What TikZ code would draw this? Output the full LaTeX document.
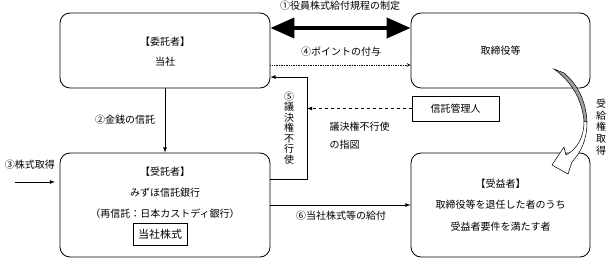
\documentclass[tikz,border=0pt]{standalone}
\usepackage{fontspec}
\setmainfont{Noto Sans CJK JP}
\usetikzlibrary{arrows,arrows.meta}

\begin{document}
\begin{tikzpicture}[x=1pt,y=-1pt,font=\fontsize{10}{12}\selectfont,
  party/.style={draw,rounded corners=10pt,line width=0.8pt,inner sep=0pt},
  plainbox/.style={draw,line width=0.8pt,inner sep=0pt},
  vtext/.style={align=center,inner sep=0pt,font=\fontsize{10}{10.5}\selectfont}]
\useasboundingbox (0,0) rectangle (608,259);

\node[party,minimum width=210pt,minimum height=75pt] (itaku) at (165,50.5) {};
\node[party,minimum width=179pt,minimum height=75pt] (tori) at (500.5,50.5) {};
\node[party,minimum width=210pt,minimum height=104pt] (jutaku) at (165,205) {};
\node[party,minimum width=179pt,minimum height=104pt] (jueki) at (500.5,205) {};
\node[plainbox,minimum width=87pt,minimum height=25pt] (kanri) at (455.5,108.5) {信託管理人};
\node[plainbox,minimum width=54pt,minimum height=22pt,font=\fontsize{11}{12}\selectfont] (kabu) at (160,234) {当社株式};

\node[] (itaku1) at (165,42) {【委託者】};
\node[] (itaku2) at (165,62) {当社};
\node[] (tori1) at (500.5,51) {取締役等};
\node[] (jutaku1) at (165,172) {【受託者】};
\node[] (jutaku2) at (165,193) {みずほ信託銀行};
\node[] (jutaku3) at (165,214) {（再信託：日本カストディ銀行）};
\node[] (jueki1) at (500.5,184) {【受益者】};
\node[] (jueki2) at (500.5,205) {取締役等を退任した者のうち};
\node[] (jueki3) at (500.5,227) {受益者要件を満たす者};

\coordinate (c1) at (340,28);
\coordinate (c4) at (340,65);
\coordinate (v5a) at (307,179);
\coordinate (v5b) at (307,77);
\coordinate (s3) at (15,182);
\coordinate (e3) at (55,182);

\draw[line width=4pt,{Triangle[length=24pt,width=20pt]}-{Triangle[length=24pt,width=20pt]}] (itaku.east |- c1) -- (tori.west |- c1);
\draw[->,>=stealth,densely dotted,line width=0.7pt] (itaku.east |- c4) -- (tori.west |- c4);
\path[->,>=latex,line width=0.8pt] (itaku) edge [] node[]{} (jutaku);
\path[->,>=latex,line width=0.8pt] (s3) edge [] node[]{} (e3);
\path[->,>=latex,line width=0.8pt] (jutaku) edge [] node[]{} (jueki);
\draw[->,>=latex,line width=0.8pt] (jutaku.east |- v5a) -- (v5a) -- (v5b) -- (itaku.east |- v5b);
\draw[->,>=latex,dashed,line width=0.8pt] (kanri.west) -- (v5b |- kanri.west);

\fill[gray!75,draw=black,line width=0.5pt] (554,69) -- (564,73) .. controls (577,84) and (586,100) .. (587,122) -- (584,121) .. controls (582,100) and (572,82) .. cycle;
\filldraw[fill=white,draw=black,line width=0.5pt] (584,121) .. controls (584,138) and (577,149) .. (566,155) -- (564,147) -- (552,165) -- (568,174) -- (572,162) .. controls (581,152) and (587,140) .. (587,122) -- cycle;

\node[] (lab1) at (340,6) {①役員株式給付規程の制定};
\node[] (lab4) at (341,52) {④ポイントの付与};
\node[] (lab2) at (125,120) {②金銭の信託};
\node[] (lab3) at (30,165) {③株式取得};
\node[] (lab6) at (341,216) {⑥当社株式等の給付};
\node[vtext] (lab5) at (289,128) {⑤\\議\\決\\権\\不\\行\\使};
\node[anchor=west] (shizu1) at (326,127) {議決権不行使};
\node[anchor=west] (shizu2) at (326,145) {の指図};
\node[vtext,font=\fontsize{10}{11.7}\selectfont] (juky) at (601,127) {受\\給\\権\\取\\得};
\end{tikzpicture}
\end{document}
